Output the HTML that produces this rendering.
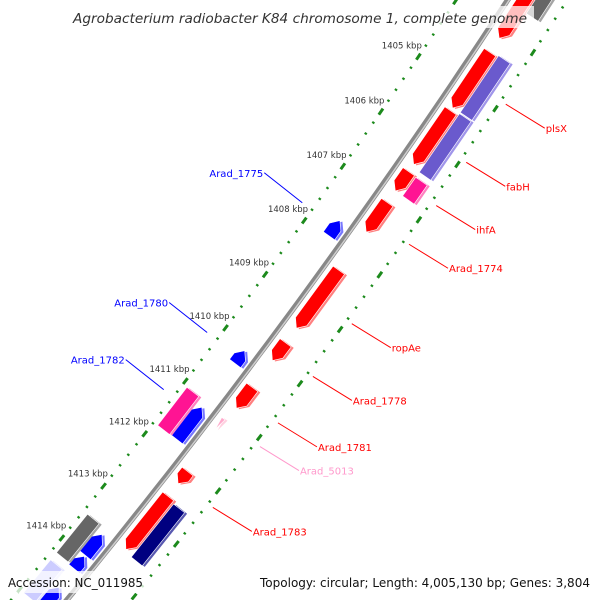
<!DOCTYPE html>
<html><head><meta charset="utf-8"><style>
html,body{margin:0;padding:0;background:#fff;width:600px;height:600px;overflow:hidden;}
svg{display:block;overflow:hidden;font-family:"DejaVu Sans","Liberation Sans",sans-serif;}
</style></head><body>
<svg id="map" width="600" height="600" viewBox="0 0 600 600">
<g id="rulers"></g>
<g id="backbone"></g>
<g id="features"></g>
<g id="labels"></g>
<g id="overlay">
<rect x="68" y="6" width="466" height="22" fill="#fff" opacity="0.75"/>
<text x="300" y="23" text-anchor="middle" font-size="13" font-style="italic" fill="#333" textLength="454" lengthAdjust="spacingAndGlyphs">Agrobacterium radiobacter K84 chromosome 1, complete genome</text>
<rect x="4" y="571" width="144" height="22" fill="#fff" opacity="0.75"/>
<text x="8" y="587" font-size="12" fill="#111" textLength="135" lengthAdjust="spacingAndGlyphs">Accession: NC_011985</text>
<rect x="256" y="571" width="340" height="22" fill="#fff" opacity="0.75"/>
<text x="590" y="587" font-size="12" fill="#111" text-anchor="end" textLength="330" lengthAdjust="spacingAndGlyphs">Topology: circular; Length: 4,005,130 bp; Genes: 3,804</text>
</g>
</svg>
<script>
// data
const featStart = [1403.0, 1404.35, 1405.4, 1406.5, 1407.06, 1408.3, 1409.64, 1410.47, 1412.05, 1412.52, 1404.32, 1405.36, 1402.8, 1406.51, 1412.56, 1411.1, 1407.69, 1410.1, 1411.16, 1413.58, 1414.0, 1414.6, 1411.06, 1413.48, 1414.36];
const featEnd   = [1404.1, 1405.35, 1406.37, 1406.85, 1407.6, 1409.37, 1409.97, 1410.86, 1412.28, 1413.53, 1405.34, 1406.42, 1403.57, 1406.85, 1413.57, 1411.3, 1407.97, 1410.34, 1411.77, 1413.98, 1414.24, 1415.2, 1411.78, 1414.22, 1415.0];
const featTrack = [1,1,1,1,1,1,1,1,1,1, 2,2,2,2,2, 0, -1,-1,-1,-1,-1,-1, -2,-2,-2];
const featColor = ['red','red','red','red','red','red','red','red','red','red','purple','purple','gray','pink','navy','lpink','blue','blue','blue','blue','blue','blue','pink','gray','lav'];
const labelNames = ['plsX','fabH','ihfA','Arad_1774','ropAe','Arad_1778','Arad_1781','Arad_5013','Arad_1783','Arad_1775','Arad_1780','Arad_1782'];
const labelKbp   = [1404.86, 1405.9, 1406.68, 1407.38, 1408.83, 1409.8, 1410.66, 1411.1, 1412.24, 1407.8, 1410.22, 1411.3];
const labelSide  = [1,1,1,1,1,1,1,1,1,-1,-1,-1];
const labelColor = ['#ff0000','#ff0000','#ff0000','#ff0000','#ff0000','#ff0000','#ff0000','#ff99cc','#ff0000','#0000ff','#0000ff','#0000ff'];
const tickKbp = [1405,1406,1407,1408,1409,1410,1411,1412,1413,1414];

const NS='http://www.w3.org/2000/svg';
const cx=-5251, cy=-3770, R=6883, th0=Math.atan2(4070,5551), kpx=67/6883;
function pt(k,o){const t=th0+(k-1409)*kpx, r=R+o;return [cx+r*Math.cos(t), cy+r*Math.sin(t)];}
function mk(tag,attrs,parent){const e=document.createElementNS(NS,tag);for(const a in attrs)e.setAttribute(a,attrs[a]);parent.appendChild(e);return e;}
const palette={red:['#ff0000','#ff8080'],blue:['#0000ff','#7878ff'],purple:['#6a5acd','#a095ea'],pink:['#ff1493','#ff80c0'],navy:['#000080','#5858b0'],gray:['#666666','#a4a4a4'],lav:['#ccccff','#e4e4ff'],lpink:['#ffaacc','#ffd0e0']};
const tracks={1:[7,21],2:[23,37],0:[8,12],'-1':[-21,-7],'-2':[-38,-23]};

// rulers
const rg=document.getElementById('rulers');
[-43,50].forEach(function(off){
  for(let i=0;i<=66;i++){
    const k=1402.4+i*0.2;
    const isMajor=Math.abs(k-Math.round(k))<1e-6;
    const h=isMajor?0.055:0.016;
    const a=pt(k-h,off), b=pt(k+h,off);
    if(Math.max(a[1],b[1])>602) continue;
    const ln=mk('line',{x1:a[0],y1:a[1],x2:b[0],y2:b[1],stroke:'#1c8a1c','stroke-width':isMajor?3:2.6},rg);
    
    
  }
});
tickKbp.forEach(function(k){
  const p=pt(k,-63);
  const t=mk('text',{x:p[0],y:p[1]+3,'font-size':8.5,fill:'#333','text-anchor':'middle'},rg);
  t.textContent=k+' kbp';
  
  
});

// backbone
const bg=document.getElementById('backbone');
function arcPath(off){let d='';for(let i=0;i<=56;i++){const k=1401.8+i*0.25;const p=pt(k,off);d+=(i?'L':'M')+p[0].toFixed(1)+' '+p[1].toFixed(1);}return d;}
const bb=mk('path',{d:arcPath(0),stroke:'#888','stroke-width':5.5,fill:'none'},bg);


const bh=mk('path',{d:arcPath(1.3),stroke:'#cfcfcf','stroke-width':1.5,fill:'none'},bg);



// features
const fg=document.getElementById('features');
for(let i=0;i<featStart.length;i++){
  const a=featStart[i], b=featEnd[i], tr=tracks[featTrack[i]];
  const r1=tr[0], r2=tr[1], m=(r1+r2)/2;
  const h=Math.min(0.12,(b-a)*0.5);
  let pts;
  if(featColor[i]==='red'){pts=[pt(a,r1),pt(b-h,r1),pt(b,m),pt(b-h,r2),pt(a,r2)];}
  else if(featColor[i]==='blue'){pts=[pt(a,m),pt(a+h,r1),pt(b,r1),pt(b,r2),pt(a+h,r2)];}
  else if(featColor[i]==='lpink'){pts=[pt(a,r1),pt(b,m),pt(a,r2)];}
  else {pts=[pt(a,r1),pt(b,r1),pt(b,r2),pt(a,r2)];}
  const col=palette[featColor[i]];
  const sh=pts.map(p=>(p[0]+2.5).toFixed(1)+','+(p[1]+1).toFixed(1)).join(' ');
  const s=mk('polygon',{points:sh,fill:col[1]},fg);
  
  
  const f=mk('polygon',{points:pts.map(p=>p[0].toFixed(1)+','+p[1].toFixed(1)).join(' '),fill:col[0],stroke:'#fff','stroke-width':0.6},fg);
  
  
}

// labels
const lg=document.getElementById('labels');
for(let i=0;i<labelNames.length;i++){
  const side=labelSide[i];
  const s=pt(labelKbp[i], side>0?56:-55);
  const e=side>0?[s[0]+39,s[1]+24]:[s[0]-38,s[1]-30];
  const l=mk('line',{x1:s[0],y1:s[1],x2:e[0],y2:e[1],stroke:labelColor[i],'stroke-width':1},lg);
  
  
  const t=mk('text',{x:side>0?e[0]+1:e[0]-1,y:e[1]+4,'font-size':10,fill:labelColor[i],'text-anchor':side>0?'start':'end'},lg);
  t.textContent=labelNames[i];
  
  
}
</script>
</body></html>
